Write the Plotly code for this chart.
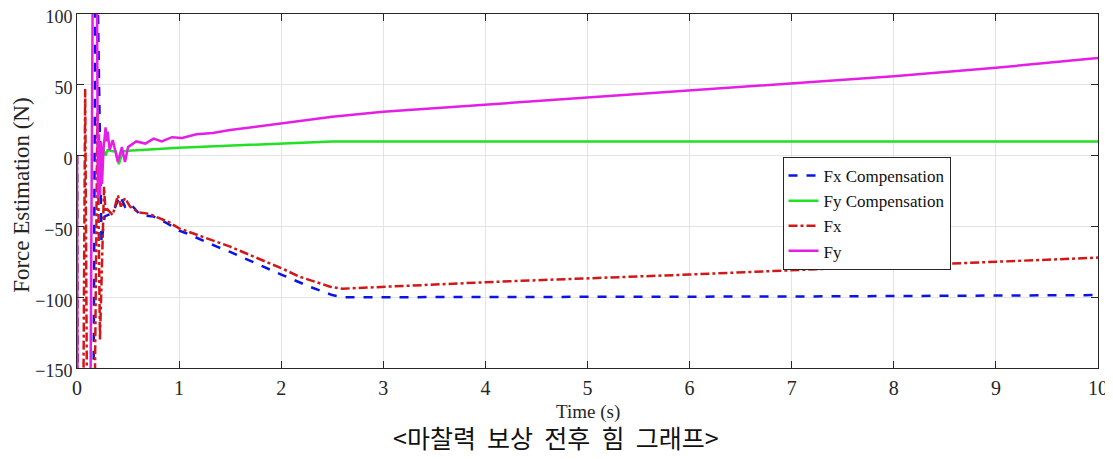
import plotly.graph_objects as go

# ---- data ----
t_fxc = [0, 0.005, 0.16, 0.185, 0.24, 0.27, 0.3, 0.35, 0.42, 0.47, 0.52, 0.62, 0.75, 0.88, 1.0, 1.07,
         1.37, 1.5, 2.0, 2.28, 2.5, 2.6, 3, 5, 7, 10]
fx_comp = [0, -200, -200, 200, -62, -43, -42, -40.7, -28, -36, -33.7, -42, -43, -47.7, -53, -54.8,
           -64.3, -68, -84, -92.6, -98.5, -100, -100, -100, -99.5, -98.5]

t_fyc = [0.19, 0.22, 0.25, 0.28, 0.3, 0.35, 0.38, 0.41, 0.45, 0.5, 1.0, 1.5, 2.0, 2.5, 3, 10]
fy_comp = [-10, -5, 6, 0, 4, 3, 3, -6, 3, 3.5, 5.5, 7, 8.8, 10, 10, 10]

t_fx = [0, 0.005, 0.06, 0.08, 0.1, 0.17, 0.2, 0.225, 0.265, 0.28, 0.3, 0.35, 0.4, 0.43, 0.47, 0.52,
        0.6, 0.7, 0.8, 0.9, 1.0, 1.5, 2.0, 2.18, 2.48, 2.6, 4.14, 6, 8, 10]
fx = [0, -200, -200, 47, -200, -200, 30, -130, -22, -40, -38, -42, -28, -36, -30, -36,
      -40, -41, -44, -47, -51.4, -64.3, -79.5, -85.5, -92.6, -94, -89, -84, -78, -72]

t_fy = [0, 0.005, 0.13, 0.16, 0.19, 0.205, 0.215, 0.225, 0.235, 0.245, 0.26, 0.28, 0.29, 0.3, 0.32,
        0.35, 0.4, 0.44, 0.47, 0.5, 0.58, 0.67, 0.75, 0.83, 0.93, 1.03, 1.17, 1.33, 1.5, 1.66, 2.0,
        2.18, 2.5, 3, 3.5, 4, 5, 6, 7, 8, 9, 10]
fy = [0, -200, -200, 200, 200, -30, 15, -28, 10, -20, 5, 20, 10, 17, 4,
      11, -4.5, 6, -4.5, 6, 10, 8.5, 12, 10, 13, 12.5, 15, 16, 18, 19.5, 23,
      24.5, 27.5, 31, 33.5, 36, 41, 46, 51, 56, 62, 69]

x_ticks = [0, 1, 2, 3, 4, 5, 6, 7, 8, 9, 10]
y_ticks = [-150, -100, -50, 0, 50, 100]

names = ["Fx Compensation", "Fy Compensation", "Fx", "Fy"]
x_title = "Time (s)"
y_title = "Force Estimation (N)"
caption = "<마찰력 보상 전후 힘 그래프>"

serif = "Liberation Serif, Times New Roman, serif"

fig = go.Figure()
fig.add_trace(go.Scatter(x=t_fxc, y=fx_comp, mode="lines", name=names[0],
                         line=dict(color="#0a14e6", width=2.5, dash="dash")))
fig.add_trace(go.Scatter(x=t_fyc, y=fy_comp, mode="lines", name=names[1],
                         line=dict(color="#22e022", width=2.5)))
fig.add_trace(go.Scatter(x=t_fx, y=fx, mode="lines", name=names[2],
                         line=dict(color="#d01818", width=2.5, dash="dashdot")))
fig.add_trace(go.Scatter(x=t_fy, y=fy, mode="lines", name=names[3],
                         line=dict(color="#e51ee5", width=2.5)))

axis_common = dict(showline=True, linecolor="#262626", linewidth=1, mirror="ticks",
                   ticks="inside", ticklen=7, tickcolor="#262626", automargin=False,
                   ticklabeloverflow="allow",
                   showgrid=True, gridcolor="#e3e3e3", gridwidth=1, zeroline=False)

fig.update_xaxes(range=[0, 10], tickmode="array", tickvals=x_ticks, ticklabelstandoff=2,
                 tickfont=dict(family=serif, size=20, color="#262626"), **axis_common)
fig.update_yaxes(range=[-150, 100], tickmode="array", tickvals=y_ticks, ticklabelshift=3,
                 tickfont=dict(family=serif, size=18, color="#262626"), **axis_common)

caption_html = caption.replace("<", "&lt;").replace(">", "&gt;").replace(" ", "\u00a0\u00a0")

fig.update_layout(
    width=1113, height=459,
    margin=dict(l=69, r=23, t=6, b=99, autoexpand=False),
    paper_bgcolor="white", plot_bgcolor="white",
    showlegend=True,
    legend=dict(x=0.691, y=0.596, xanchor="left", yanchor="top",
                bgcolor="white", bordercolor="#262626", borderwidth=1,
                font=dict(family=serif, size=17, color="#111111"),
                tracegroupgap=0, itemwidth=30),
    annotations=[
        dict(text=y_title, xref="paper", yref="paper", x=-0.0539, y=0.489,
             textangle=-90, showarrow=False, xanchor="center", yanchor="middle",
             font=dict(family=serif, size=23, color="#262626")),
        dict(text=x_title, xref="paper", yref="paper", x=0.5, y=-0.124,
             showarrow=False, xanchor="center", yanchor="middle",
             font=dict(family=serif, size=19, color="#262626")),
        dict(text=caption_html, xref="paper", yref="paper",
             x=0.469, y=-0.195,
             showarrow=False, xanchor="center", yanchor="middle",
             font=dict(family="Noto Sans CJK KR", size=25, color="#111111")),
    ],
)

fig.write_html("out.html")
